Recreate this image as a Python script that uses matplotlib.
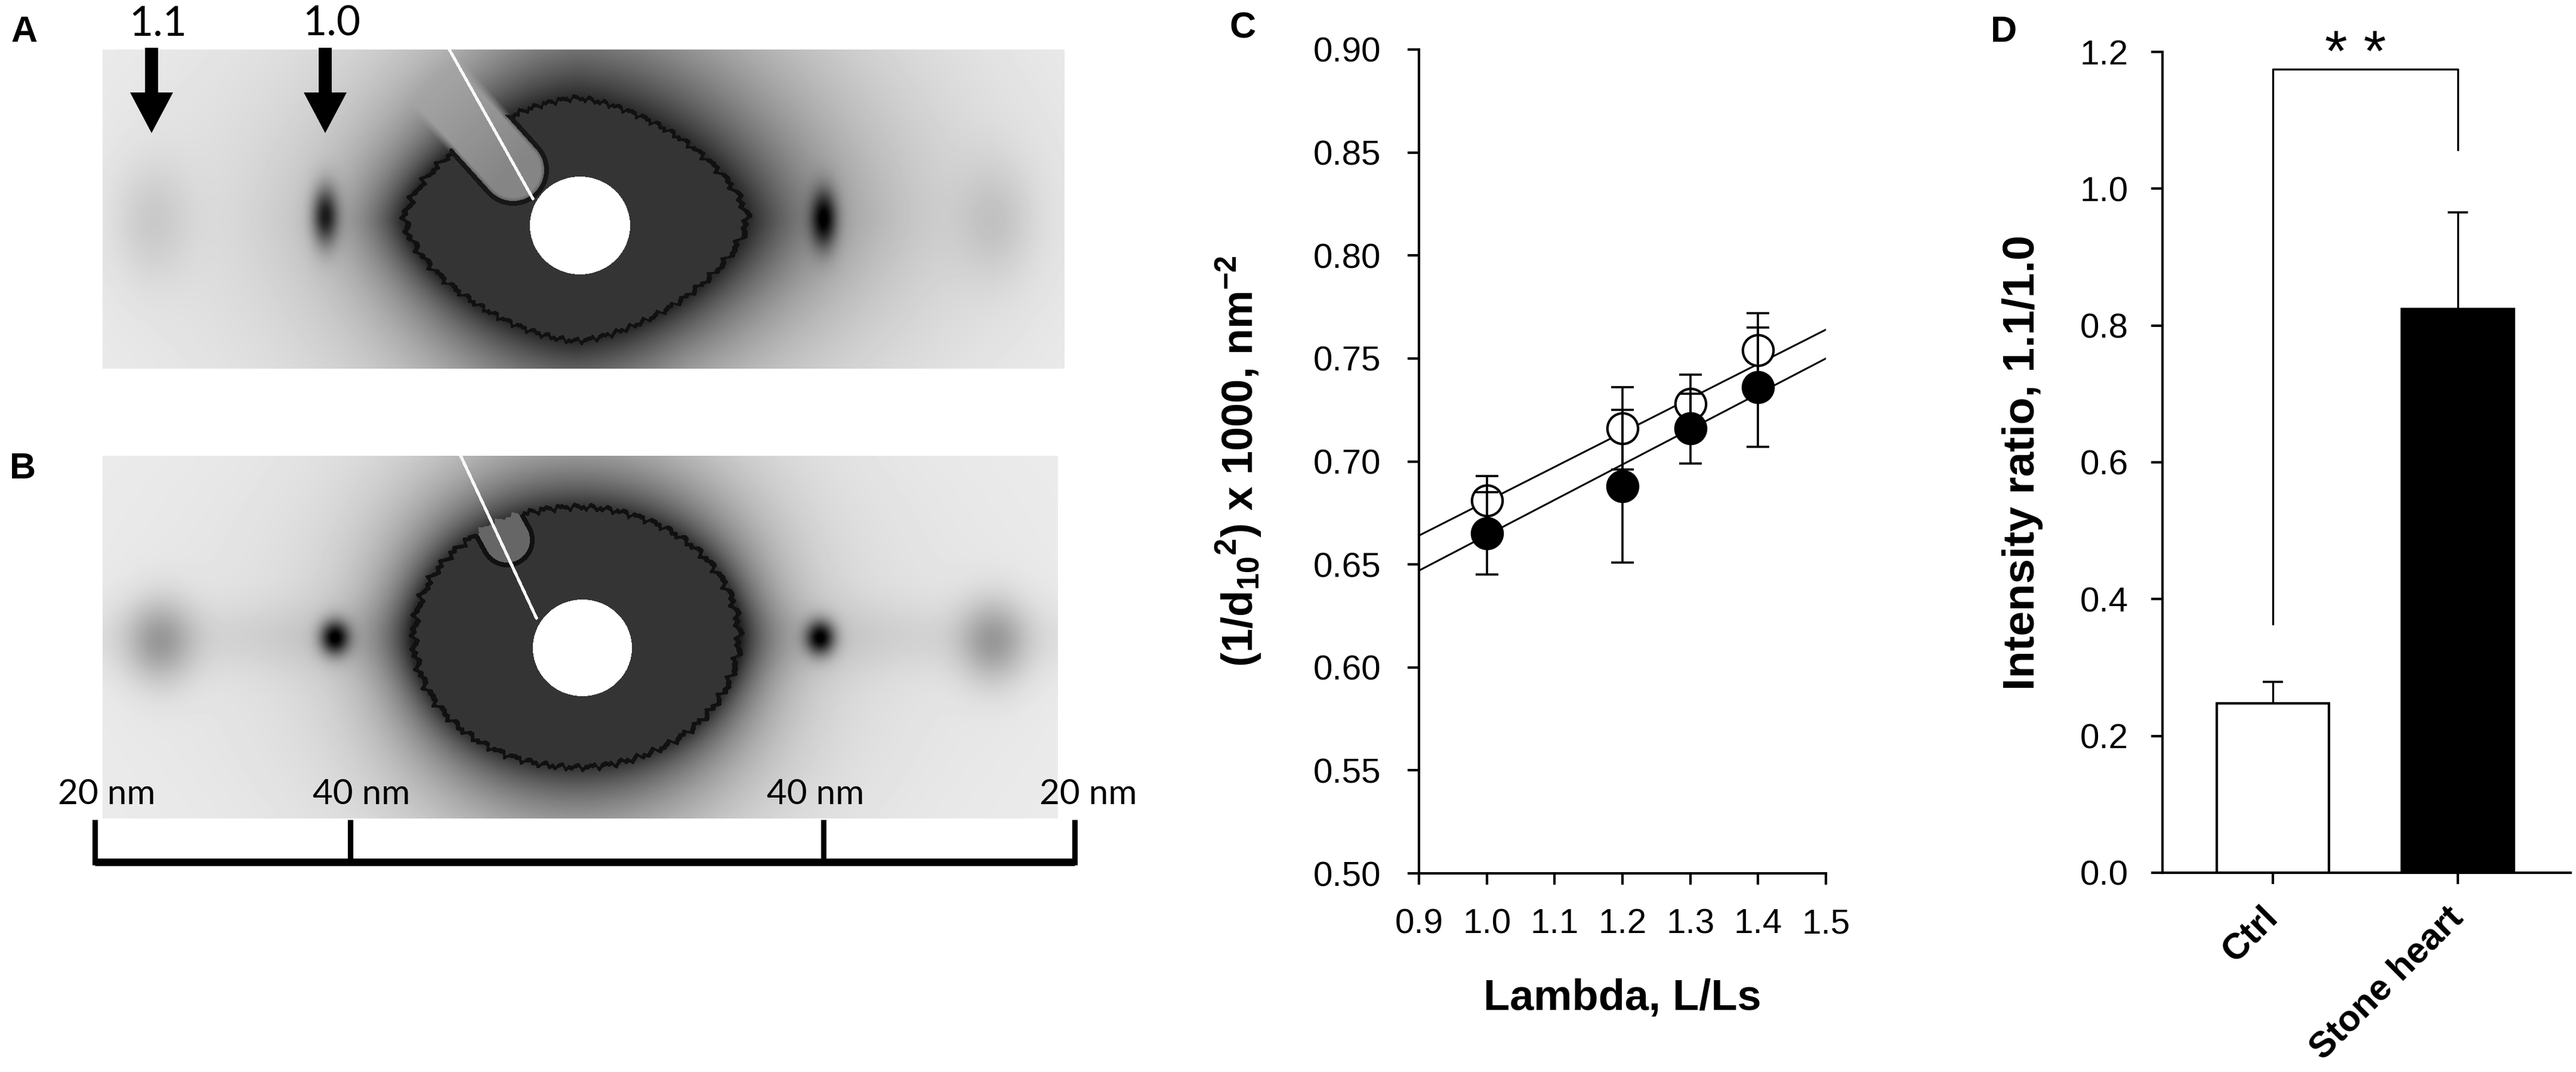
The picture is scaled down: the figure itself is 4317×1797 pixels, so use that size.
import numpy as np
import matplotlib
matplotlib.use("Agg")
import matplotlib.pyplot as plt
from matplotlib.patches import FancyArrow
from matplotlib.transforms import ScaledTranslation

# ---- data ----
lam = [1.0, 1.2, 1.3, 1.4]
open_y = [0.681, 0.716, 0.728, 0.754]
open_err = [0.012, 0.020, 0.014, 0.018]
filled_y = [0.665, 0.688, 0.716, 0.736]
filled_err = [0.020, 0.037, 0.017, 0.029]
fit_x = [0.9, 1.5]
open_fit = [0.664, 0.764]
filled_fit = [0.647, 0.750]

groups = ["Ctrl", "Stone heart"]
ratio = [0.248, 0.824]
ratio_err = [0.031, 0.141]
bracket_y = [0.364, 1.175, 1.175, 1.057]

reflections = ["1.1", "1.0"]
scale_labels = ["20 nm", "40 nm", "40 nm", "20 nm"]

W, H = 4317, 1797
plt.rcParams["font.family"] = ["Liberation Sans", "DejaVu Sans"]
plt.rcParams["mathtext.default"] = "regular"


def fx(px):
    return px / W


def fy(py):
    return 1 - py / H


def seg_dist(X, Y, p0, p1):
    vx, vy = p1[0] - p0[0], p1[1] - p0[1]
    L2 = vx * vx + vy * vy
    t = np.clip(((X - p0[0]) * vx + (Y - p0[1]) * vy) / L2, 0, 1)
    return np.hypot(X - (p0[0] + t * vx), Y - (p0[1] + t * vy)), t


def pattern(box, p):
    x0, x1, y0, y1 = box
    X, Y = np.meshgrid(np.arange(x0, x1) + 0.5, np.arange(y0, y1) + 0.5)
    dx, dy = X - p["c"][0], Y - p["c"][1]
    th = np.arctan2(dy, dx)
    q = p["q"]
    f0 = ((np.abs(dx) / p["a"]) ** q + (np.abs(dy) / p["b"]) ** q) ** (1 / q)
    f = f0 + p["jag"] * (np.sin(53 * th) + 0.6 * np.sin(97 * th + 1.3) + 0.4 * np.sin(151 * th + 0.5))

    g = p["bg"] - p["bg_amp"] * np.exp(-((dx / p["bg_sx"]) ** 2 + (dy / p["bg_sy"]) ** 2))
    w = p["w0"] * (1 + p["wv"] * np.sin(th) ** 2 + p.get("wur", 0) * np.clip(-np.sin(th - 0.9), 0, None))
    g = g - p["halo"] * np.exp(-np.clip(f0 - 1, 0, None) / w)
    g = g - p["streak"] * np.exp(-(dy / 60.0) ** 2) * np.exp(-(dx / 900.0) ** 2)
    for sx, sy, wx, wy, d in p["spots"]:
        g = g - d * np.exp(-0.5 * (((X - sx) / wx) ** 2 + ((Y - sy) / wy) ** 2))

    inside = f < 1
    rim = (f >= 0.965) & inside
    g = np.where(inside, 0.21, g)
    g = np.where(rim, 0.07, g)

    if "holder" in p:
        h0, h1, hw = p["holder"]
        d, t = seg_dist(X, Y, h0, h1)
        soft = np.clip((hw - d) / 14.0, 0, 1)
        gh = 0.52 + 0.22 * (1 - t)
        g = np.where(soft > 0, np.maximum(g, g * (1 - soft) + gh * soft), g)
        g = np.where((d >= hw - 8) & (d < hw) & inside & (t > 0.45), 0.09, g)

    if "notch" in p:
        n0, n1, nw = p["notch"]
        d, t = seg_dist(X, Y, n0, n1)
        nm = d < nw
        g = np.where(nm & inside, 0.40, g)
        g = np.where((d >= nw - 8) & (d < nw) & inside, 0.07, g)

    (dcx, dcy), rx, ry = p["disc"]
    rd = ((X - dcx) / rx) ** 2 + ((Y - dcy) / ry) ** 2
    g = np.where(rd < 1, 1.0, g)

    d, t = seg_dist(X, Y, p["wire"][0], p["wire"][1])
    g = np.where(d < 2.6, 0.97, g)
    return np.clip(g, 0, 1)


fig = plt.figure(figsize=(W / 100, H / 100), dpi=100)

# ---- panels A and B: diffraction patterns ----
axl = fig.add_axes([0, 0, fx(2100), 1])
axl.set_xlim(0, 2100)
axl.set_ylim(H, 0)
axl.axis("off")

box_a = (172, 1784, 83, 618)
par_a = dict(c=(965, 368), a=292, b=207, q=1.55, jag=0.012,
             bg=0.94, bg_amp=0.16, bg_sx=650, bg_sy=420,
             halo=0.64, w0=0.28, wv=1.2, wur=0.9, streak=0.0,
             spots=[(545, 362, 15, 34, 0.60), (1381, 367, 15, 34, 0.60),
                    (255, 370, 45, 70, 0.10), (1669, 370, 45, 70, 0.10)],
             holder=((630, 30), (860, 285), 60),
             disc=((972, 378), 84, 82),
             wire=((753, 83), (893, 333)))
img_a = pattern(box_a, par_a)
axl.imshow(img_a, cmap="gray", vmin=0, vmax=1, aspect="auto",
           extent=(box_a[0], box_a[1], box_a[3], box_a[2]), interpolation="bilinear")

box_b = (172, 1773, 764, 1372)
par_b = dict(c=(966, 1068), a=277, b=222, q=2.0, jag=0.012,
             bg=0.93, bg_amp=0.10, bg_sx=600, bg_sy=400,
             halo=0.64, w0=0.22, wv=1.1, streak=0.09,
             spots=[(561, 1069, 17, 20, 0.75), (1375, 1069, 17, 20, 0.75),
                    (268, 1075, 40, 50, 0.26), (1665, 1075, 40, 50, 0.26)],
             notch=((770, 760), (850, 905), 46),
             disc=((976, 1086), 83, 81),
             wire=((772, 764), (899, 1036)))
img_b = pattern(box_b, par_b)
axl.imshow(img_b, cmap="gray", vmin=0, vmax=1, aspect="auto",
           extent=(box_b[0], box_b[1], box_b[3], box_b[2]), interpolation="bilinear")

# arrows marking reflections
for lab, ax_x in zip(reflections, [254, 545]):
    axl.add_patch(FancyArrow(ax_x, 80, 0, 143, width=22, head_width=72, head_length=68,
                             length_includes_head=True, color="black", lw=0))
    axl.text(ax_x + 11, 40, lab, ha="center", va="center", fontsize=50, family="Lato")

# scale bar
bar_x = [159, 587, 1380, 1801]
axl.plot([bar_x[0], bar_x[-1]], [1445, 1445], color="black", lw=9, solid_capstyle="butt")
for bx in bar_x:
    axl.plot([bx, bx], [1374, 1450], color="black", lw=6.5, solid_capstyle="butt")
for lab, lx in zip(scale_labels, [179, 606, 1367, 1824]):
    axl.text(lx, 1331, lab, ha="center", va="center", fontsize=42, family="Lato")

# ---- panel C ----
axc = fig.add_axes([fx(2378), fy(1464), 682 / W, 1381 / H])
axc.plot(fit_x, open_fit, color="black", lw=2.2, zorder=1)
axc.plot(fit_x, filled_fit, color="black", lw=2.2, zorder=1)
axc.plot(lam, open_y, "o", ms=37, mfc="white", mec="black", mew=3, zorder=3)
axc.plot(lam, filled_y, "o", ms=37, mfc="black", mec="black", mew=3, zorder=4)
axc.errorbar(lam, open_y, yerr=open_err, fmt="none", ecolor="black", elinewidth=2.6,
             capsize=14, capthick=2.6, zorder=5)
axc.errorbar(lam, filled_y, yerr=filled_err, fmt="none", ecolor="black", elinewidth=2.6,
             capsize=14, capthick=2.6, zorder=5)
axc.set_xlim(0.9, 1.5)
axc.set_ylim(0.5, 0.9)
axc.set_xticks(np.round(np.arange(0.9, 1.51, 0.1), 1))
axc.set_xticklabels(["%.1f" % v for v in np.arange(0.9, 1.51, 0.1)])
axc.set_yticks(np.round(np.arange(0.5, 0.91, 0.05), 2))
axc.set_yticklabels(["%.2f" % v for v in np.arange(0.5, 0.91, 0.05)])
for s in ["top", "right"]:
    axc.spines[s].set_visible(False)
for s in ["left", "bottom"]:
    axc.spines[s].set_linewidth(3)
axc.tick_params(direction="out", length=14, width=3, labelsize=42)
axc.tick_params(axis="y", pad=32)
axc.tick_params(axis="x", pad=28)
axc.set_xlabel("Lambda, L/Ls", fontsize=52, fontweight="bold", va="center")
axc.xaxis.set_label_coords(0.5, (1464 - 1674) / 1381)
axc.set_ylabel("(1/d$_{10}$$^{2}$) x 1000, nm$^{-2}$", fontsize=52, fontweight="bold", va="center")
axc.yaxis.set_label_coords((2076 - 2378) / 682, 0.5)

# ---- panel D ----
axd = fig.add_axes([fx(3624), fy(1463), 684 / W, 1376 / H])
pos = [0, 1]
axd.bar(pos, ratio, width=0.606, color=["white", "black"], edgecolor="black", linewidth=3, zorder=2)
axd.errorbar(pos, ratio, yerr=[[0, 0], ratio_err], fmt="none", ecolor="black",
             elinewidth=2.4, capsize=12, capthick=2.6, zorder=1)
axd.plot([pos[0], pos[0], pos[1], pos[1]], bracket_y, color="black", lw=2.4, clip_on=False)
axd.text(0.448, 1.172, "* *", ha="center", va="baseline", fontsize=70, clip_on=False)
axd.set_xlim(-0.597, 1.610)
axd.set_ylim(0, 1.2)
axd.set_yticks(np.round(np.arange(0, 1.21, 0.2), 1))
axd.set_yticklabels(["%.1f" % v for v in np.arange(0, 1.21, 0.2)])
axd.set_xticks(pos)
axd.set_xticklabels(groups, rotation=45, ha="right", va="center", rotation_mode="anchor",
                    fontweight="bold", fontsize=44)
for lab in axd.get_xticklabels():
    lab.set_transform(lab.get_transform() + ScaledTranslation(0.25, 0, fig.dpi_scale_trans))
for s in ["top", "right"]:
    axd.spines[s].set_visible(False)
for s in ["left", "bottom"]:
    axd.spines[s].set_linewidth(3)
axd.tick_params(direction="out", length=14, width=3, labelsize=42)
axd.tick_params(axis="y", pad=27)
axd.tick_params(axis="x", pad=34, labelsize=44)
axd.set_ylabel("Intensity ratio, 1.1/1.0", fontsize=54, fontweight="bold", va="center")
axd.yaxis.set_label_coords((3389 - 3624) / 684, 0.5)

# panel letters
for lab, px, py in [("A", 41, 54), ("B", 38, 787), ("C", 2083, 48), ("D", 3358, 54)]:
    fig.text(fx(px), fy(py), lab, ha="center", va="center", fontsize=44, fontweight="bold")

fig.savefig("out.png", dpi=100, facecolor="white")
